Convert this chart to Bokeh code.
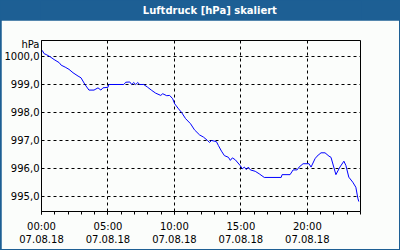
from bokeh.plotting import figure
from bokeh.layouts import column
from bokeh.models import FixedTicker, Range1d
from bokeh.core.properties import value
from bokeh.embed import file_html
from bokeh.resources import INLINE

title_text = "Luftdruck [hPa] skaliert"
unit_text = "hPa"

# time in hours since 07.08.18 00:00
hours = [0.05, 0.20, 0.35, 0.65, 0.95, 1.33, 1.48, 1.78, 2.07, 2.37, 2.75, 2.97,
         3.27, 3.57, 3.95, 4.25, 4.47, 4.62, 5.00, 5.07, 6.19, 6.34, 6.64, 6.79,
         6.94, 7.09, 7.24, 7.39, 7.69, 7.99, 8.29, 8.59, 8.97, 9.12, 9.42, 9.64,
         9.87, 10.02, 10.31, 10.54, 10.84, 11.21, 11.51, 11.89, 12.19, 12.49, 12.64,
         12.79, 13.16, 13.31, 13.54, 13.76, 14.06, 14.21, 14.36, 14.58, 14.96, 15.11,
         15.26, 15.41, 15.56, 15.71, 16.08, 16.38, 16.76, 18.03, 18.10, 18.70, 18.93,
         19.23, 19.38, 19.68, 20.13, 20.28, 20.58, 20.73, 21.03, 21.33, 21.63, 21.78,
         22.15, 22.45, 22.75, 22.90, 23.12, 23.42, 23.65, 23.80, 23.87]
pressure = [1000.22, 1000.10, 1000.07, 999.99, 999.89, 999.78, 999.69, 999.62, 999.54,
            999.42, 999.30, 999.24, 999.00, 998.80, 998.80, 998.88, 998.80, 998.88,
            998.90, 999.00, 999.00, 999.08, 999.09, 999.00, 999.07, 999.00, 999.07,
            999.00, 999.00, 998.90, 998.79, 998.69, 998.61, 998.67, 998.60, 998.61,
            998.49, 998.31, 998.13, 998.00, 997.78, 997.60, 997.38, 997.20, 997.12,
            997.00, 996.93, 997.00, 996.96, 996.82, 996.62, 996.46, 996.40, 996.29,
            996.38, 996.31, 996.10, 995.99, 996.05, 995.96, 996.05, 995.95, 995.90,
            995.81, 995.68, 995.68, 995.78, 995.78, 995.95, 995.95, 996.05, 996.17,
            996.17, 996.05, 996.35, 996.44, 996.56, 996.56, 996.44, 996.40, 995.78,
            996.05, 996.26, 996.11, 995.69, 995.51, 995.33, 994.94, 994.82]

x_ticks = [0, 5, 10, 15, 20]
x_tick_labels = ["00:00\n07.08.18", "05:00\n07.08.18", "10:00\n07.08.18",
                 "15:00\n07.08.18", "20:00\n07.08.18"]
y_ticks = [995, 996, 997, 998, 999, 1000]
y_tick_labels = ["995,0", "996,0", "997,0", "998,0", "999,0", "1000,0"]
unit_pos = 1000.43  # where the unit caption sits on the value axis

BLUE = "#1d5f94"
BG = "#fbfdfb"
FONT = "DejaVu Sans"

# title bar
t = figure(width=400, height=20, toolbar_location=None, output_backend="svg",
           x_range=Range1d(0, 400), y_range=Range1d(0, 20), min_border=0)
t.axis.visible = False
t.grid.visible = False
t.outline_line_color = None
t.background_fill_color = BLUE
t.border_fill_color = BLUE
t.text(x=[211], y=[10], text=[title_text], text_color="white",
       text_font=value(FONT), text_font_style="bold", text_font_size="10px",
       text_align="center", text_baseline="middle")

# main chart
p = figure(width=398, height=229, toolbar_location=None, output_backend="svg",
           x_range=Range1d(0, 24), y_range=Range1d(994.464, 1000.571),
           min_border_left=39, min_border_right=39, min_border_top=20,
           min_border_bottom=38)
p.margin = (0, 1, 1, 1)
p.background_fill_color = BG
p.border_fill_color = BG
p.outline_line_color = "black"
p.outline_line_width = 1

p.line(hours, pressure, line_color="#0000ff", line_width=1)

p.xaxis.ticker = FixedTicker(ticks=x_ticks, minor_ticks=list(range(0, 25)))
p.xaxis.major_label_overrides = dict(zip(x_ticks, x_tick_labels))
y_labels = dict(zip(y_ticks, y_tick_labels))
y_labels[unit_pos] = unit_text
p.yaxis.ticker = FixedTicker(ticks=y_ticks + [unit_pos])
p.yaxis.major_label_overrides = y_labels

for ax in (p.xaxis[0], p.yaxis[0]):
    ax.axis_line_color = "black"
    ax.major_label_text_font = FONT
    ax.major_label_text_font_size = "10px"
    ax.major_label_text_color = "black"
    ax.major_tick_line_color = "black"
    ax.minor_tick_line_color = "black"
p.xaxis.major_tick_out = 3
p.xaxis.major_tick_in = 0
p.xaxis.minor_tick_out = 3
p.xaxis.minor_tick_in = 0
p.xaxis.major_label_standoff = 6
p.yaxis.major_tick_out = 0
p.yaxis.major_tick_in = 0
p.yaxis.minor_tick_line_color = None
p.yaxis.major_label_standoff = 2

p.xgrid.ticker = FixedTicker(ticks=x_ticks)
p.ygrid.ticker = FixedTicker(ticks=y_ticks)
p.grid.grid_line_color = "black"
p.grid.grid_line_dash = "3 3"
p.grid.grid_line_width = 1

layout = column(t, p, spacing=0, styles={"background-color": BLUE})
open("out.html", "w").write(file_html(layout, INLINE))
